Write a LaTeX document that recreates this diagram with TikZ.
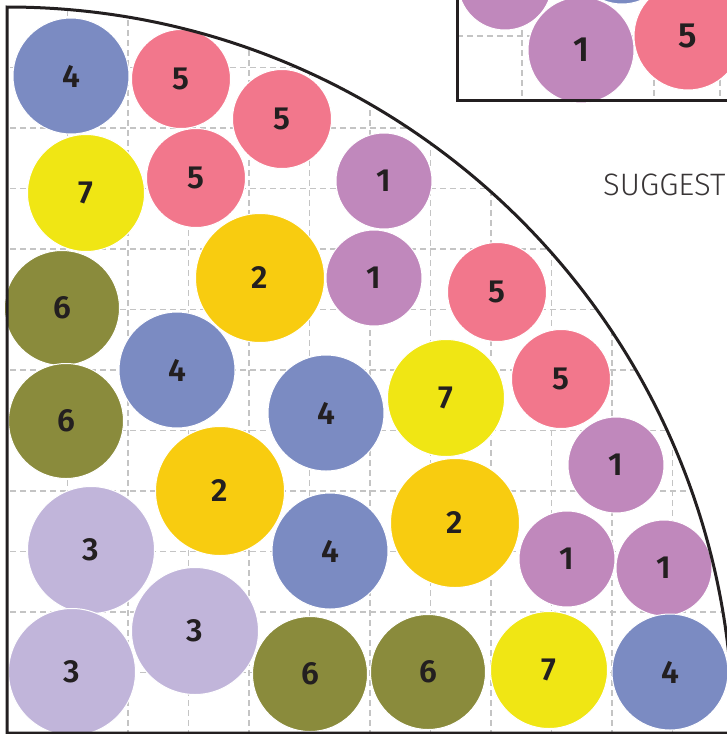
\documentclass[tikz,border=0pt]{standalone}
\usepackage{fontspec}
\setmainfont{Fira Sans}
\newfontfamily\numfont{Fira Sans SemiBold}
\newfontfamily\lightfont{Fira Sans Light}
\definecolor{ink}{HTML}{231F20}
\definecolor{gridc}{HTML}{C4C4C4}
\definecolor{cone}{HTML}{C088BC}
\definecolor{ctwo}{HTML}{F8CC10}
\definecolor{cthree}{HTML}{C1B5DA}
\definecolor{cfour}{HTML}{7B8BC2}
\definecolor{cfive}{HTML}{F2778C}
\definecolor{csix}{HTML}{8A8B3C}
\definecolor{cseven}{HTML}{F0E614}
\tikzset{
  ball/.style={circle, inner sep=0pt, draw=white, line width=1pt, font=\numfont\fontsize{32}{32}\selectfont, text=ink},
  bone/.style={ball, fill=cone, minimum size=96pt},
  btwo/.style={ball, fill=ctwo, minimum size=129pt},
  bthree/.style={ball, fill=cthree, minimum size=127pt},
  bfour/.style={ball, fill=cfour, minimum size=116pt},
  bfive/.style={ball, fill=cfive, minimum size=99pt},
  bsix/.style={ball, fill=csix, minimum size=115pt},
  bseven/.style={ball, fill=cseven, minimum size=117pt},
  gridline/.style={gridc, line width=1.6pt, dash pattern=on 6pt off 4pt},
  frame/.style={ink, line width=3pt},
}
\begin{document}
\begin{tikzpicture}[x=1pt, y=-1pt]
\useasboundingbox (0,0) rectangle (727,734);
\clip (0,0) rectangle (727,734);
% grid inside the quarter disc
\begin{scope}
  \clip (7,733) -- (7,7) arc[start angle=90, end angle=0, radius=726pt] -- cycle;
  \foreach \k in {1,...,11} {
    \draw[gridline] ({7+60.5*\k},0) -- ({7+60.5*\k},734);
    \draw[gridline] (0,{7+60.5*\k}) -- (727,{7+60.5*\k});
  }
\end{scope}
% inset grid
\begin{scope}
  \clip (457,0) rectangle (727,100);
  \draw[gridline] (457,36) -- (727,36);
  \foreach \x in {522,588,654,720} \draw[gridline] (\x,0) -- (\x,100);
\end{scope}
% inset circles
\node[bone, minimum size=94pt] (i1) at (505,-17) {};
\node[bfour, minimum size=100pt] (i2) at (622,-46) {};
\node[bone, minimum size=106pt, font=\numfont\fontsize{35}{35}\selectfont] (i3) at (581,50) {1};
\node[bfive, minimum size=108pt, font=\numfont\fontsize{35}{35}\selectfont] (i4) at (688,36) {5};
\draw[frame] (457,-5) -- (457,100) -- (740,100);
% text
\node[anchor=base west, inner sep=0pt, font=\lightfont\fontsize{31}{31}\selectfont, text=ink!90] (sug) at (603,195) {SUGGEST};
% main circles
\node[bfour] (c1) at (71,76) {4};
\node[bfive] (c2) at (181,79) {5};
\node[bfive] (c3) at (282,119) {5};
\node[bseven] (c4) at (86,193) {7};
\node[bfive] (c5) at (196,178) {5};
\node[bone] (c6) at (384,181) {1};
\node[bsix] (c7) at (62,308) {6};
\node[btwo] (c8) at (260,278) {2};
\node[bone] (c9) at (374,278) {1};
\node[bfive] (c10) at (497,292) {5};
\node[bfour] (c11) at (177,370) {4};
\node[bsix] (c12) at (66,421) {6};
\node[bfour] (c13) at (326,413) {4};
\node[bseven] (c14) at (446,398) {7};
\node[bfive] (c15) at (561,379) {5};
\node[bone] (c16) at (616,465) {1};
\node[btwo] (c17) at (220,491) {2};
\node[btwo] (c18) at (455,523) {2};
\node[bthree] (c19) at (91,550) {3};
\node[bfour] (c20) at (330,551) {4};
\node[bone] (c21) at (567,559) {1};
\node[bone] (c22) at (664,568) {1};
\node[bthree] (c23) at (195,631) {3};
\node[bthree] (c24) at (72,672) {3};
\node[bsix] (c25) at (310,674) {6};
\node[bsix] (c26) at (428,672) {6};
\node[bseven] (c27) at (549,670) {7};
\node[bfour] (c28) at (670,672) {4};
% frame
\draw[frame] (7,733) -- (7,7) arc[start angle=90, end angle=0, radius=726pt] -- cycle;
\end{tikzpicture}
\end{document}
